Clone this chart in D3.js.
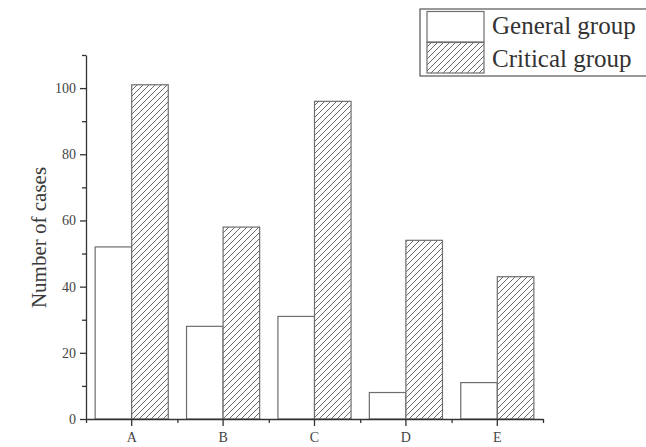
<!DOCTYPE html>
<html>
<head>
<meta charset="utf-8">
<script src="https://cdn.jsdelivr.net/npm/d3@7"></script>
<style>
  html, body { margin: 0; padding: 0; background: #fff; }
  svg { display: block; }
</style>
</head>
<body>
<script>
// Case counts per category for the two patient groups
const categories = ["A", "B", "C", "D", "E"];
const generalGroup = [52, 28, 31, 8, 11];
const criticalGroup = [101, 58, 96, 54, 43];
const seriesNames = ["General group", "Critical group"];
const yTicks = [0, 20, 40, 60, 80, 100];
const yMinorTicks = [10, 30, 50, 70, 90, 110];

const W = 646, H = 447;
const svg = d3.select("body").append("svg").attr("width", W).attr("height", H);

// Diagonal hatch used for the critical group
const defs = svg.append("defs");
const pat = defs.append("pattern")
  .attr("id", "hatch")
  .attr("patternUnits", "userSpaceOnUse")
  .attr("width", 6).attr("height", 6);
pat.append("rect").attr("width", 6).attr("height", 6).attr("fill", "#fff");
pat.append("path")
  .attr("d", "M-1,1 L1,-1 M0,6 L6,0 M5,7 L7,5")
  .attr("stroke", "#5a5a5a").attr("stroke-width", 0.9);

const x0 = 86, x1 = 543, yBase = 419, yTop = 55;

const x = d3.scaleBand().domain(categories).range([x0, x1])
  .paddingInner(0.2).paddingOuter(0.1);
const xSub = d3.scaleBand().domain(seriesNames).range([0, x.bandwidth()]);
const y = d3.scaleLinear().domain([0, 110]).range([yBase, yTop]);

const rows = categories.map((c, i) => ({ cat: c, vals: [generalGroup[i], criticalGroup[i]] }));

// Bars
const g = svg.append("g");
rows.forEach(r => {
  r.vals.forEach((v, j) => {
    g.append("rect")
      .attr("x", x(r.cat) + xSub(seriesNames[j]))
      .attr("y", y(v))
      .attr("width", xSub.bandwidth())
      .attr("height", y(0) - y(v))
      .attr("fill", j === 0 ? "#fff" : "url(#hatch)")
      .attr("stroke", "#6e6e6e")
      .attr("stroke-width", 1.2);
  });
});

const axisColor = "#333";
const tickFont = "'Liberation Serif', 'DejaVu Serif', serif";

// Y axis with minor ticks
svg.append("g").attr("transform", `translate(${x0},0)`)
  .call(d3.axisLeft(y).tickValues(yTicks).tickSize(6).tickPadding(4).tickSizeOuter(0));
svg.append("g").attr("transform", `translate(${x0},0)`)
  .call(d3.axisLeft(y).tickValues(yMinorTicks).tickSize(4).tickFormat("").tickSizeOuter(0))
  .select(".domain").remove();

// X axis: labelled ticks at category centres, minor ticks at boundaries
const xBound = d3.scaleLinear().domain([0, categories.length]).range([x0, x1]);
svg.append("g").attr("transform", `translate(0,${yBase})`)
  .call(d3.axisBottom(x).tickSize(7).tickPadding(6).tickSizeOuter(0));
svg.append("g").attr("transform", `translate(0,${yBase})`)
  .call(d3.axisBottom(xBound).ticks(categories.length).tickSize(4).tickFormat("").tickSizeOuter(0))
  .select(".domain").remove();

svg.selectAll(".domain, .tick line")
  .attr("stroke", axisColor).attr("stroke-width", 1.3);
svg.selectAll(".tick text")
  .attr("font-family", tickFont).attr("font-size", 14).attr("fill", "#444");

// Y axis title
svg.append("text")
  .attr("transform", `translate(46,${(168 + 307) / 2}) rotate(-90)`)
  .attr("text-anchor", "middle")
  .attr("font-family", "'Liberation Serif', 'Times New Roman', serif")
  .attr("font-size", 21)
  .attr("fill", "#3a3a3a")
  .text("Number of cases");

// Legend
const lg = svg.append("g");
lg.append("rect").attr("x", 420).attr("y", 9).attr("width", 240).attr("height", 67)
  .attr("fill", "#fff").attr("stroke", "#555").attr("stroke-width", 1.2);
seriesNames.forEach((name, j) => {
  const top = j === 0 ? 11.5 : 42.5;
  lg.append("rect").attr("x", 427).attr("y", top).attr("width", 57).attr("height", 30.5)
    .attr("fill", j === 0 ? "#fff" : "url(#hatch)")
    .attr("stroke", "#6e6e6e").attr("stroke-width", 1.2);
  lg.append("text")
    .attr("x", 492).attr("y", j === 0 ? 34 : 67)
    .attr("font-family", "'Liberation Serif', 'Times New Roman', serif")
    .attr("font-size", 25).attr("fill", "#333")
    .text(name);
});
</script>
</body>
</html>
